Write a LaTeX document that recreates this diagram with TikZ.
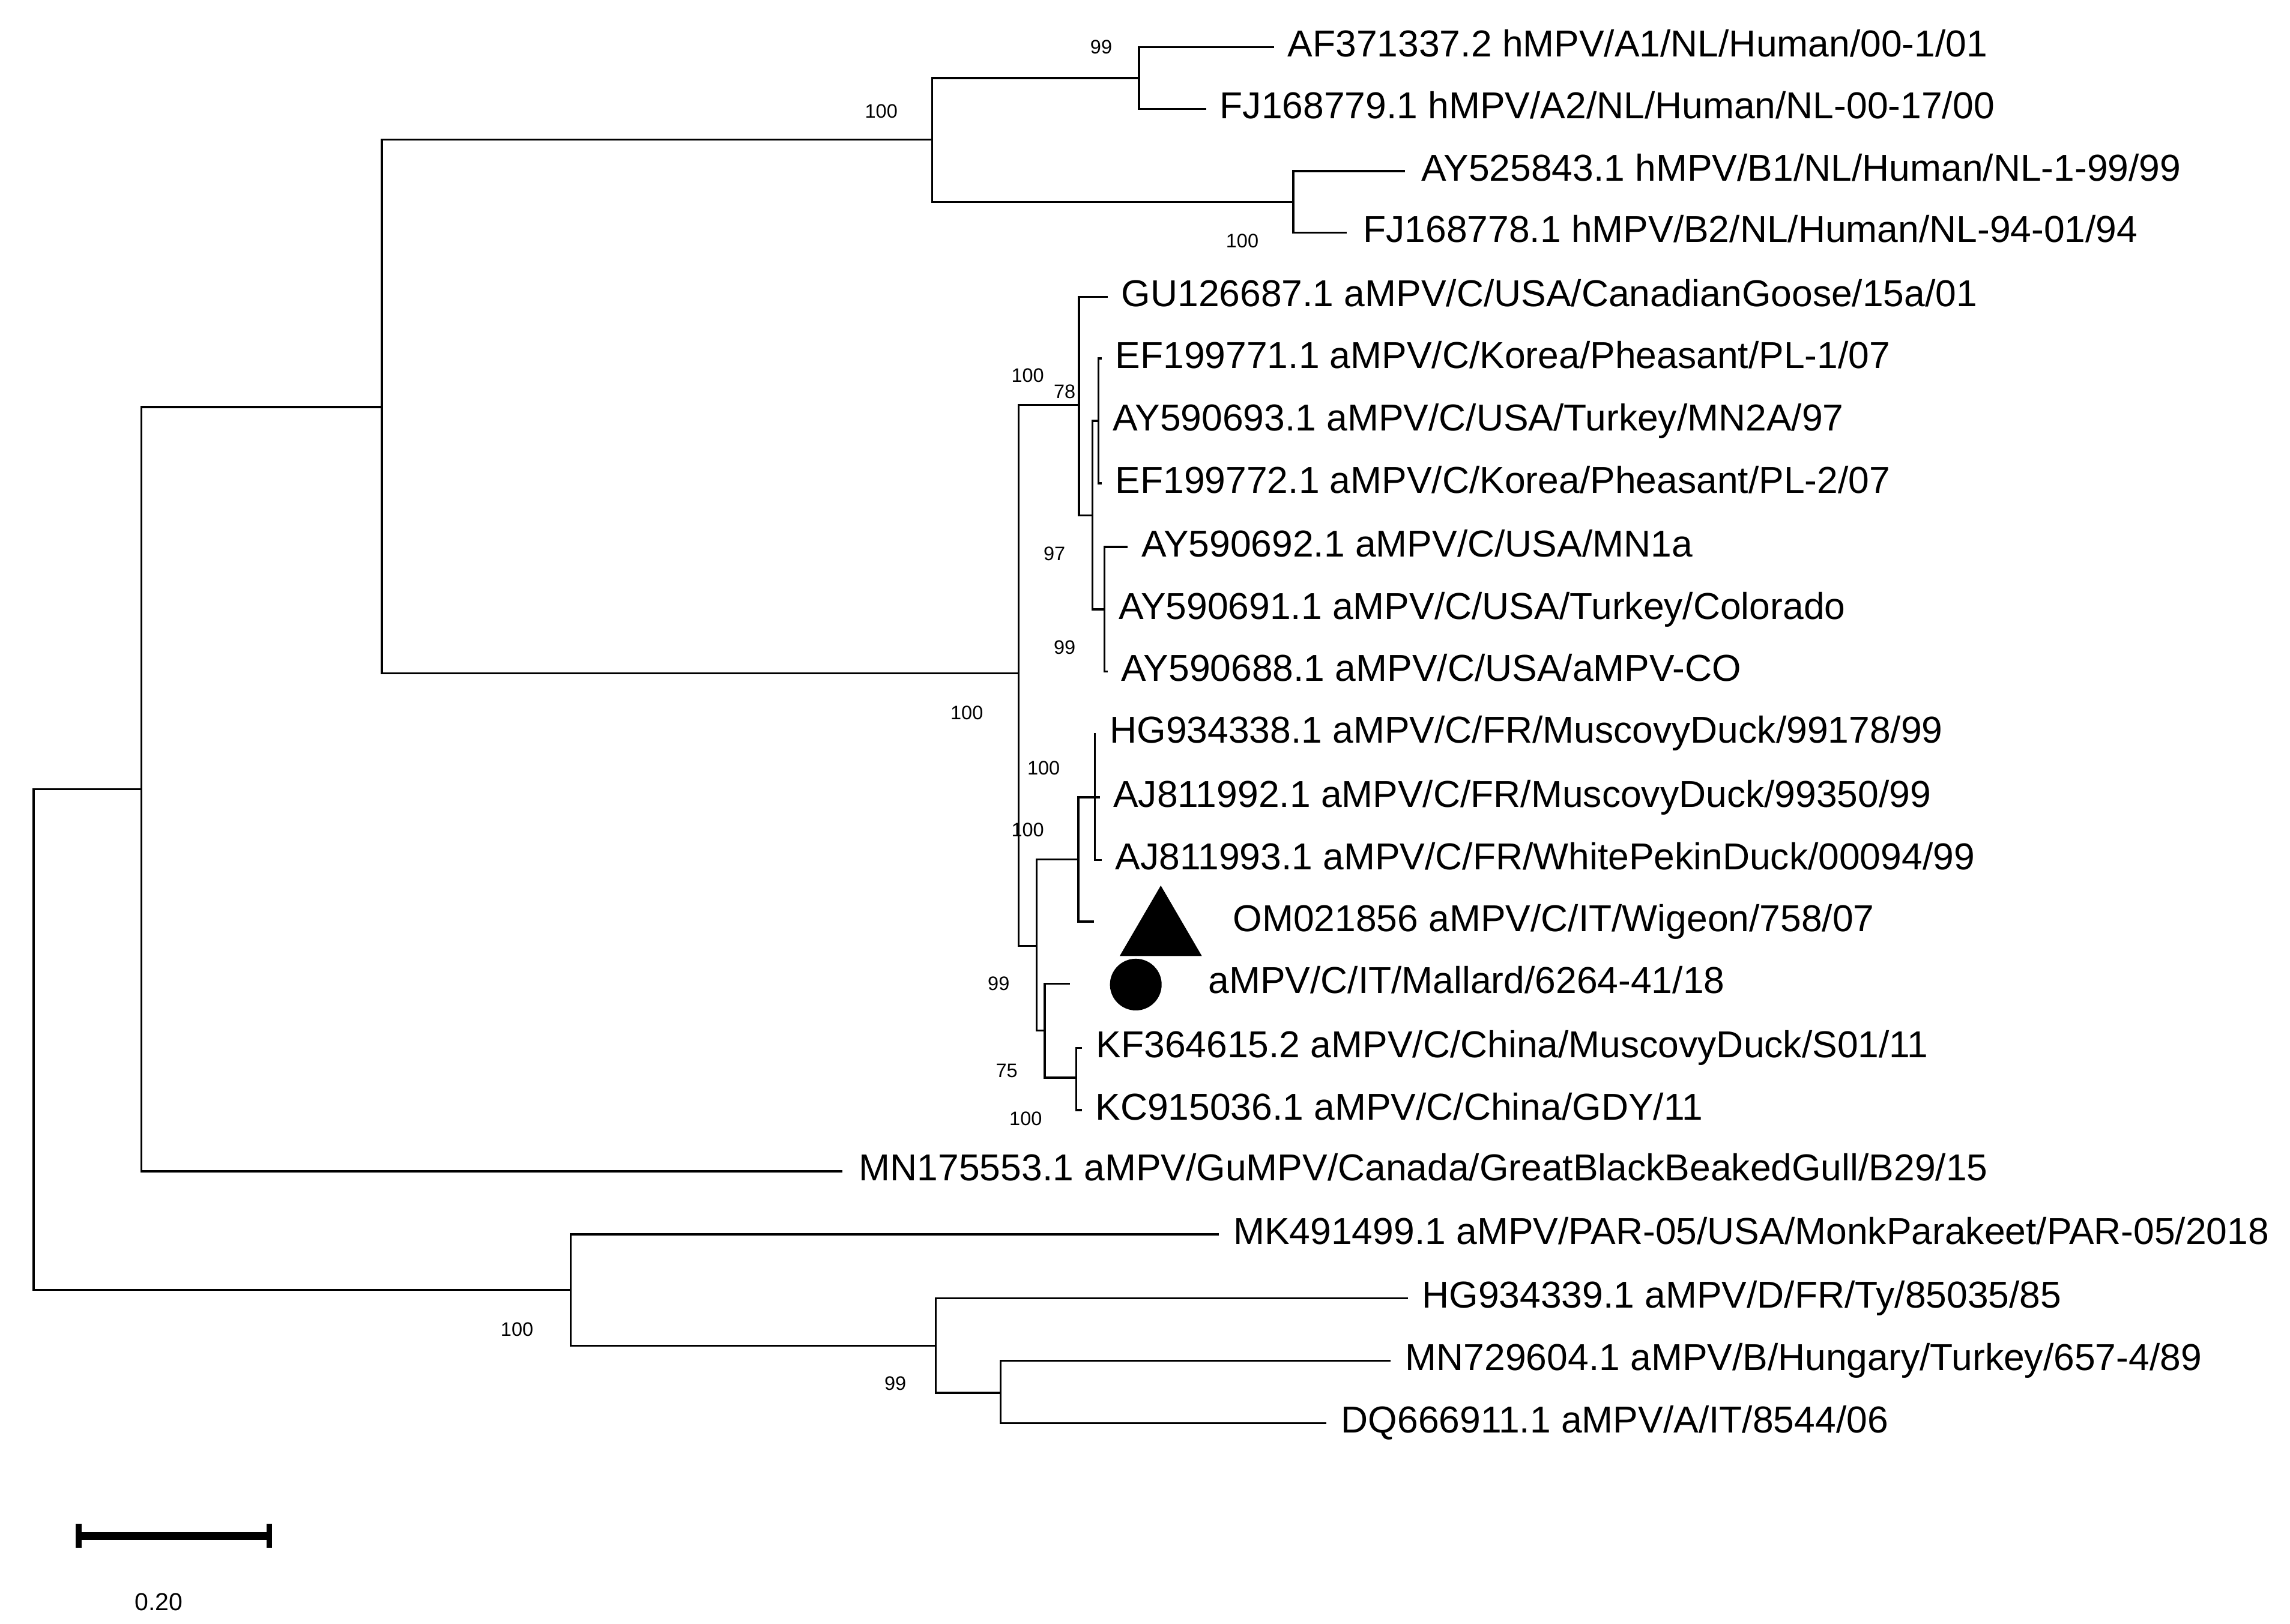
\documentclass[tikz,border=0pt]{standalone}
\usepackage{fontspec}
\setmainfont{Liberation Sans}
\usetikzlibrary{positioning}

\begin{document}
\begin{tikzpicture}[x=0.02cm,y=-0.02cm,
  br/.style={line width=0.8pt},
  lab/.style={inner sep=0pt,yshift=0.05cm,text height=10.4pt,text depth=0pt,font=\fontsize{14.6}{16}\selectfont},
  bs/.style={inner sep=0pt,text height=5.4pt,text depth=0pt,font=\fontsize{7.6}{9}\selectfont}]
\useasboundingbox (0,0) rectangle (1568,1112);

% inner nodes
\coordinate (root) at (23,712);
\coordinate (n1) at (96.9,540.5);
\coordinate (n2) at (261.5,278.8);
\coordinate (hm) at (638.3,95.5);
\coordinate (ha) at (779.9,53.5);
\coordinate (hb) at (885.6,138.3);
\coordinate (ca) at (697.5,461);
\coordinate (cg) at (738.7,277.3);
\coordinate (ck) at (747.9,352.9);
\coordinate (cp) at (752.1,288.2);
\coordinate (cm) at (756.2,417.3);
\coordinate (cb) at (709.9,647.7);
\coordinate (cc) at (738.4,588.6);
\coordinate (cd) at (749.6,546);
\coordinate (ce) at (715.4,705.7);
\coordinate (cf) at (737,737.9);
\coordinate (n3) at (390.8,883.3);
\coordinate (n4) at (640.6,921.4);
\coordinate (n5) at (685.2,953.8);

% leaves
\coordinate (af) at (872.4,32.2);
\coordinate (fja) at (825.9,74.7);
\coordinate (ayb) at (962,117.2);
\coordinate (fjb) at (922,159.4);
\coordinate (gu) at (758.5,203.3);
\coordinate (efa) at (754.4,245.5);
\coordinate (mna) at (752.6,288.2);
\coordinate (efb) at (754.4,331);
\coordinate (mnb) at (772.2,374.5);
\coordinate (col) at (756.6,417.3);
\coordinate (co) at (758.5,459.9);
\coordinate (hga) at (749.6,502);
\coordinate (aja) at (753,546);
\coordinate (ajb) at (754.4,589);
\coordinate (om) at (748.9,631);
\coordinate (mal) at (732.5,673.5);
\coordinate (kf) at (740.7,717.6);
\coordinate (kc) at (740.7,760.2);
\coordinate (gull) at (576.9,802);
\coordinate (mk) at (834.7,845.2);
\coordinate (ty) at (963.9,889.1);
\coordinate (hu) at (952,931.8);
\coordinate (it) at (908,974.5);

% branches
\draw[br] (root) |- (n1) (root) |- (n3);
\draw[br] (n1) |- (n2) (n1) |- (gull);
\draw[br] (n2) |- (hm) (n2) |- (ca);
\draw[br] (hm) |- (ha) (hm) |- (hb);
\draw[br] (ha) |- (af) (ha) |- (fja);
\draw[br] (hb) |- (ayb) (hb) |- (fjb);
\draw[br] (ca) |- (cg) (ca) |- (cb);
\draw[br] (cg) |- (gu) (cg) |- (ck);
\draw[br] (ck) |- (cp) (ck) |- (cm);
\draw[br] (cp) |- (efa) (cp) |- (mna) (cp) |- (efb);
\draw[br] (cm) |- (mnb) (cm) |- (col) (cm) |- (co);
\draw[br] (cb) |- (cc) (cb) |- (ce);
\draw[br] (cc) |- (cd) (cc) |- (om);
\draw[br] (cd) |- (hga) (cd) |- (aja) (cd) |- (ajb);
\draw[br] (ce) |- (mal) (ce) |- (cf);
\draw[br] (cf) |- (kf) (cf) |- (kc);
\draw[br] (n3) |- (mk) (n3) |- (n4);
\draw[br] (n4) |- (ty) (n4) |- (n5);
\draw[br] (n5) |- (hu) (n5) |- (it);

% taxon names
\node[lab,right=0.18cm of af] (t-af) {AF371337.2 hMPV/A1/NL/Human/00-1/01};
\node[lab,right=0.18cm of fja] (t-fja) {FJ168779.1 hMPV/A2/NL/Human/NL-00-17/00};
\node[lab,right=0.22cm of ayb] (t-ayb) {AY525843.1 hMPV/B1/NL/Human/NL-1-99/99};
\node[lab,right=0.22cm of fjb] (t-fjb) {FJ168778.1 hMPV/B2/NL/Human/NL-94-01/94};
\node[lab,right=0.18cm of gu] (t-gu) {GU126687.1 aMPV/C/USA/CanadianGoose/15a/01};
\node[lab,right=0.18cm of efa] (t-efa) {EF199771.1 aMPV/C/Korea/Pheasant/PL-1/07};
\node[lab,right=0.18cm of mna] (t-mna) {AY590693.1 aMPV/C/USA/Turkey/MN2A/97};
\node[lab,right=0.18cm of efb] (t-efb) {EF199772.1 aMPV/C/Korea/Pheasant/PL-2/07};
\node[lab,right=0.18cm of mnb] (t-mnb) {AY590692.1 aMPV/C/USA/MN1a};
\node[lab,right=0.18cm of col] (t-col) {AY590691.1 aMPV/C/USA/Turkey/Colorado};
\node[lab,right=0.18cm of co] (t-co) {AY590688.1 aMPV/C/USA/aMPV-CO};
\node[lab,right=0.2cm of hga] (t-hga) {HG934338.1 aMPV/C/FR/MuscovyDuck/99178/99};
\node[lab,right=0.18cm of aja] (t-aja) {AJ811992.1 aMPV/C/FR/MuscovyDuck/99350/99};
\node[lab,right=0.18cm of ajb] (t-ajb) {AJ811993.1 aMPV/C/FR/WhitePekinDuck/00094/99};
\node[lab,right=1.9cm of om] (t-om) {OM021856 aMPV/C/IT/Wigeon/758/07};
\node[lab,right=1.89cm of mal] (t-mal) {aMPV/C/IT/Mallard/6264-41/18};
\node[lab,right=0.19cm of kf] (t-kf) {KF364615.2 aMPV/C/China/MuscovyDuck/S01/11};
\node[lab,right=0.18cm of kc] (t-kc) {KC915036.1 aMPV/C/China/GDY/11};
\node[lab,right=0.22cm of gull] (t-gull) {MN175553.1 aMPV/GuMPV/Canada/GreatBlackBeakedGull/B29/15};
\node[lab,right=0.19cm of mk] (t-mk) {MK491499.1 aMPV/PAR-05/USA/MonkParakeet/PAR-05/2018};
\node[lab,right=0.19cm of ty] (t-ty) {HG934339.1 aMPV/D/FR/Ty/85035/85};
\node[lab,right=0.2cm of hu] (t-hu) {MN729604.1 aMPV/B/Hungary/Turkey/657-4/89};
\node[lab,right=0.2cm of it] (t-it) {DQ666911.1 aMPV/A/IT/8544/06};

% markers for the Italian strains
\fill (766.7,654.6) -- (794.8,606.4) -- (822.9,654.6) -- cycle;
\fill (777.7,674.2) circle[radius=0.354cm];

% bootstrap values
\node[bs] (b1) at (754,32.2) {99};
\node[bs] (b2) at (603.4,76) {100};
\node[bs] (b3) at (850.6,165) {100};
\node[bs] (b4) at (703.7,257) {100};
\node[bs] (b5) at (729,268) {78};
\node[bs] (b6) at (722,379) {97};
\node[bs] (b7) at (729,443) {99};
\node[bs] (b8) at (662,488) {100};
\node[bs] (b9) at (714.6,525.6) {100};
\node[bs] (b10) at (703.7,568) {100};
\node[bs] (b11) at (683.8,673.5) {99};
\node[bs] (b12) at (689.3,732.9) {75};
\node[bs] (b13) at (702.3,765.8) {100};
\node[bs] (b14) at (354,910) {100};
\node[bs] (b15) at (613,947) {99};

% scale bar
\coordinate (sl) at (51.9,1051.8);
\coordinate (sr) at (186.4,1051.8);
\draw[line width=3.1pt] (sl) -- (sr);
\draw[line width=0.08cm] ([xshift=0.04cm,yshift=0.165cm]sl) -- ([xshift=0.04cm,yshift=-0.165cm]sl);
\draw[line width=0.08cm] ([xshift=-0.04cm,yshift=0.165cm]sr) -- ([xshift=-0.04cm,yshift=-0.165cm]sr);
\node[inner sep=0pt,font=\fontsize{9.6}{11}\selectfont] (sc) at (108.6,1097) {0.20};
\end{tikzpicture}
\end{document}
